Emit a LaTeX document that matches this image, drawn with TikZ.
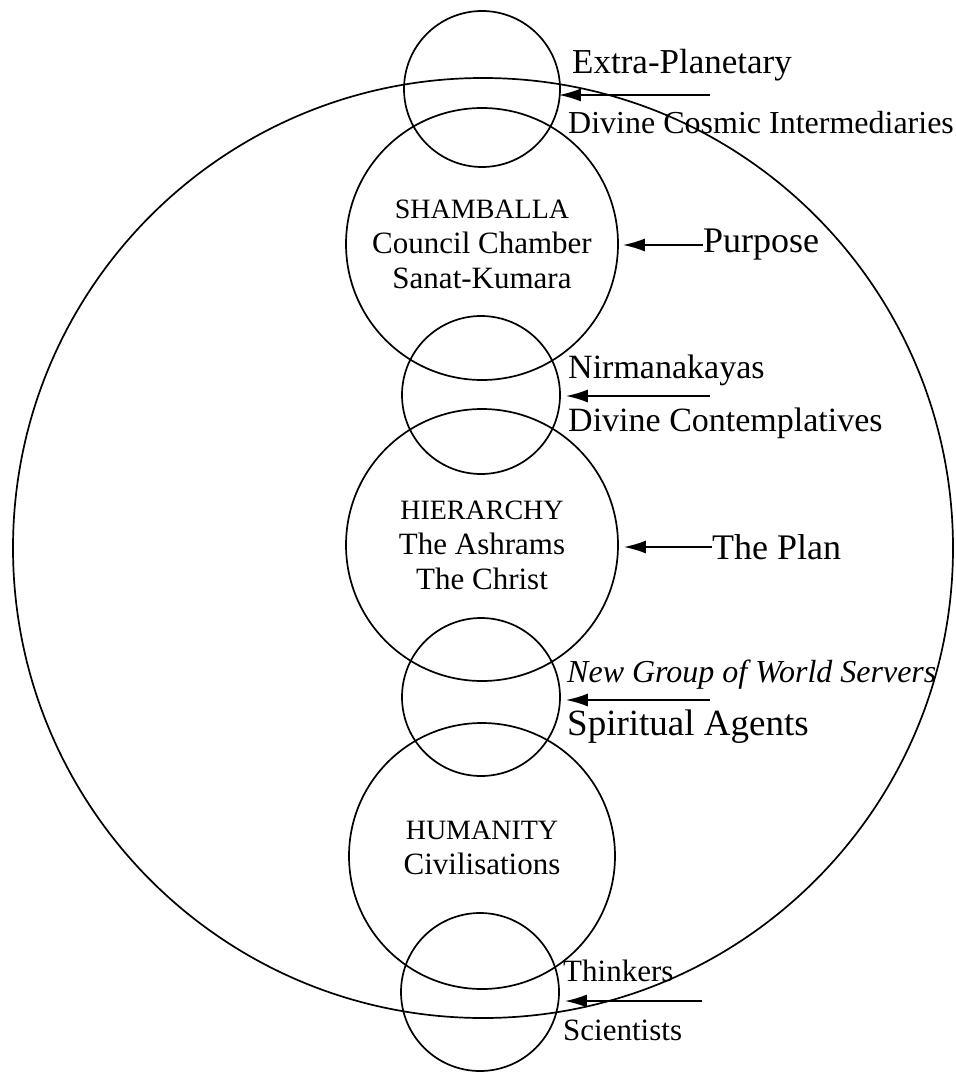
\documentclass[tikz,border=0pt]{standalone}
\usepackage{fontspec}
\setmainfont{Liberation Serif}
\usetikzlibrary{arrows.meta, positioning}

\tikzset{
  ring/.style={circle, draw, line width=1.7pt, inner sep=0pt, align=center,
    font=\fontsize{31}{35}\selectfont},
  note/.style={anchor=west, inner sep=0pt, font=\fontsize{34}{38}\selectfont},
  pointer/.style={-{Latex[length=22pt,width=13pt]}, line width=1.8pt}
}

\begin{document}
\begin{tikzpicture}[x=1pt, y=-1pt]
    \useasboundingbox (0,0) rectangle (955,1078);
    % the outer sphere
    \node[ring, minimum size=940] (E) at (483,548) {};

    % the chain of centres
    \node[ring, minimum size=156] (Ep) at (482,89) {};
    \node[ring, minimum size=272] (Sh) at (482,244)
        {{\fontsize{28}{35}\selectfont SHAMBALLA}\\Council Chamber\\Sanat-Kumara};
    \node[ring, minimum size=158] (Nm) at (481,395) {};
    \node[ring, minimum size=272] (Hi) at (482,545)
        {{\fontsize{28}{35}\selectfont HIERARCHY}\\The Ashrams\\The Christ};
    \node[ring, minimum size=158] (Ng) at (481,697) {};
    \node[ring, minimum size=266] (Hu) at (482,856)
        {{\fontsize{28}{35}\selectfont HUMANITY}\\Civilisations\\[-19pt]};
    \node[ring, minimum size=158] (Th) at (480,992) {};

    % labels on the right
    \node[note, font=\fontsize{35}{38}\selectfont] (extra) at (572,65) {Extra-Planetary};
    \node[note, font=\fontsize{32}{38}\selectfont] (cosmic) at (568,123) {Divine Cosmic Intermediaries};
    \node[note, font=\fontsize{36}{38}\selectfont] (purpose) at (703,245) {Purpose};
    \node[note] (nirm) at (568,370) {Nirmanakayas};
    \node[note] (contemp) at (568,423) {Divine Contemplatives};
    \node[note, font=\fontsize{36}{38}\selectfont] (plan) at (712,547) {The Plan};
    \node[note, font=\fontsize{32}{36}\selectfont\itshape] (ngws) at (567,675) {New Group of World Servers};
    \node[note, font=\fontsize{37}{40}\selectfont] (agents) at (567,727) {Spiritual Agents};
    \node[note, font=\fontsize{31}{36}\selectfont] (think) at (563,971) {Thinkers};
    \node[note, font=\fontsize{31}{36}\selectfont] (sci) at (563,1030) {Scientists};

    % arrows into the circles
    \coordinate (xp) at (710,95);
    \coordinate (nx) at (710,396);
    \coordinate (gx) at (710,700);
    \coordinate (tx) at (702,1001);
    \draw[pointer, shorten >=-2pt] (xp) -- (xp -| Ep.east);
    \draw[pointer, shorten >=4pt] (purpose.west) -- (purpose.west -| Sh.east);
    \draw[pointer, shorten >=5pt] (nx) -- (nx -| Nm.east);
    \draw[pointer, shorten >=5pt] (plan.west) -- (plan.west -| Hi.east);
    \draw[pointer, shorten >=5pt] (gx) -- (gx -| Ng.east);
    \draw[pointer, shorten >=5pt] (tx) -- (tx -| Th.east);
\end{tikzpicture}
\end{document}
